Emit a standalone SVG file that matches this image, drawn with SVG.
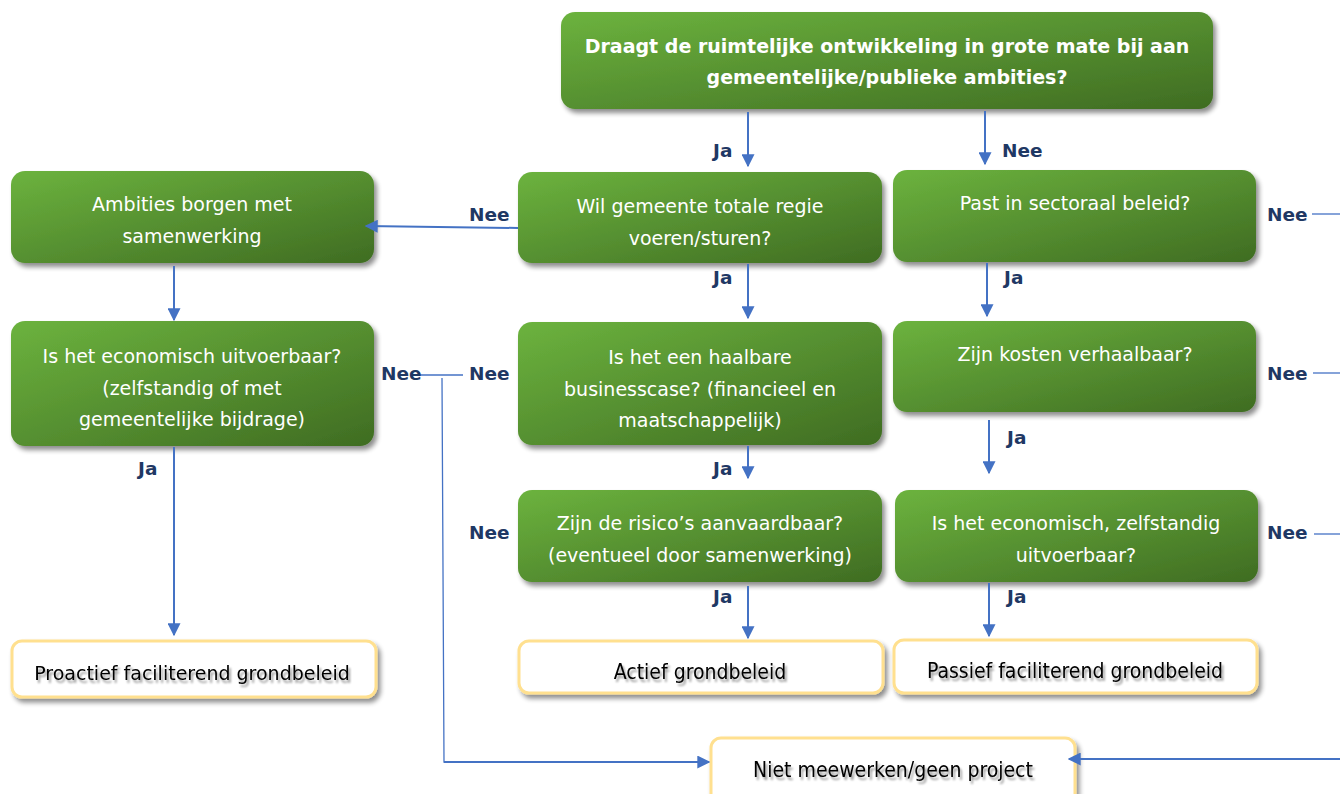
<svg xmlns="http://www.w3.org/2000/svg" width="1340" height="794" viewBox="0 0 1340 794">
<defs>
<linearGradient id="g" x1="0" y1="0" x2="1" y2="1">
<stop offset="0" stop-color="#6cb33e"/>
<stop offset="1" stop-color="#3f6c22"/>
</linearGradient>
<filter id="sh" x="-10%" y="-20%" width="125%" height="150%">
<feGaussianBlur in="SourceAlpha" stdDeviation="2.5"/>
<feOffset dx="3" dy="4" result="b"/>
<feComponentTransfer><feFuncA type="linear" slope="0.45"/></feComponentTransfer>
<feMerge><feMergeNode/><feMergeNode in="SourceGraphic"/></feMerge>
</filter>
<filter id="tsh" x="-5%" y="-30%" width="110%" height="160%">
<feGaussianBlur in="SourceAlpha" stdDeviation="1.2"/>
<feOffset dx="1.5" dy="2.5"/>
<feComponentTransfer><feFuncA type="linear" slope="0.4"/></feComponentTransfer>
<feMerge><feMergeNode/><feMergeNode in="SourceGraphic"/></feMerge>
</filter>
<marker id="ar" viewBox="0 0 10 10" refX="9" refY="5" markerWidth="6.5" markerHeight="6.5" orient="auto" markerUnits="strokeWidth">
<path d="M0,0 L10,5 L0,10 z" fill="#4472c4"/>
</marker>
</defs>
<style>
.gb{fill:url(#g);filter:url(#sh)}
.wb{fill:#fff;stroke:#ffe08f;stroke-width:3;filter:url(#sh)}
.t{font-family:"DejaVu Sans",Verdana,sans-serif;font-size:19px;fill:#fff;text-anchor:middle}
.tb{font-family:"DejaVu Sans",Verdana,sans-serif;font-size:19px;font-weight:bold;fill:#fff;text-anchor:middle}
.k{font-family:"DejaVu Sans",Verdana,sans-serif;font-size:19px;fill:#000;text-anchor:middle;filter:url(#tsh)}
.kc{font-family:"DejaVu Sans Condensed","DejaVu Sans",sans-serif;font-stretch:condensed;font-size:21px;fill:#000;text-anchor:middle;filter:url(#tsh)}
.l{font-family:"DejaVu Sans",Verdana,sans-serif;font-size:18.5px;font-weight:bold;fill:#1f3864}
.c{fill:none;stroke:#4472c4;stroke-width:2}
.a{marker-end:url(#ar)}
.th{fill:none;stroke:#4472c4;stroke-width:1.3}
</style>
<g id="n-top">
<rect class="gb" x="561" y="12" width="652" height="97" rx="14"/>
<text class="tb" x="887" y="53">Draagt de ruimtelijke ontwikkeling in grote mate bij aan</text>
<text class="tb" x="887" y="84">gemeentelijke/publieke ambities?</text>
</g>
<g id="n-ambities">
<rect class="gb" x="11" y="171" width="363" height="92" rx="14"/>
<text class="t" x="192" y="211">Ambities borgen met</text>
<text class="t" x="192" y="243">samenwerking</text>
</g>
<g id="n-regie">
<rect class="gb" x="518" y="172" width="364" height="91" rx="14"/>
<text class="t" x="700" y="213">Wil gemeente totale regie</text>
<text class="t" x="700" y="245">voeren/sturen?</text>
</g>
<g id="n-sectoraal">
<rect class="gb" x="893" y="170" width="363" height="92" rx="14"/>
<text class="t" x="1075" y="210">Past in sectoraal beleid?</text>
</g>
<g id="n-econ">
<rect class="gb" x="11" y="321" width="363" height="125" rx="14"/>
<text class="t" x="192" y="363">Is het economisch uitvoerbaar?</text>
<text class="t" x="192" y="395">(zelfstandig of met</text>
<text class="t" x="192" y="426">gemeentelijke bijdrage)</text>
</g>
<g id="n-business">
<rect class="gb" x="518" y="322" width="364" height="123" rx="14"/>
<text class="t" x="700" y="364">Is het een haalbare</text>
<text class="t" x="700" y="396">businesscase? (financieel en</text>
<text class="t" x="700" y="427">maatschappelijk)</text>
</g>
<g id="n-kosten">
<rect class="gb" x="893" y="321" width="363" height="91" rx="14"/>
<text class="t" x="1075" y="361">Zijn kosten verhaalbaar?</text>
</g>
<g id="n-risico">
<rect class="gb" x="518" y="490" width="364" height="92" rx="14"/>
<text class="t" x="700" y="530">Zijn de risico’s aanvaardbaar?</text>
<text class="t" x="700" y="562">(eventueel door samenwerking)</text>
</g>
<g id="n-zelfstandig">
<rect class="gb" x="895" y="490" width="363" height="92" rx="14"/>
<text class="t" x="1076" y="530">Is het economisch, zelfstandig</text>
<text class="t" x="1076" y="562">uitvoerbaar?</text>
</g>
<g id="n-proactief">
<rect class="wb" x="12" y="641" width="364" height="56" rx="10"/>
<text class="k" x="192" y="680">Proactief faciliterend grondbeleid</text>
</g>
<g id="n-actief">
<rect class="wb" x="519" y="641" width="364" height="52" rx="10"/>
<text class="kc" x="700" y="679">Actief grondbeleid</text>
</g>
<g id="n-passief">
<rect class="wb" x="894" y="640" width="363" height="53" rx="10"/>
<text class="kc" x="1075" y="678">Passief faciliterend grondbeleid</text>
</g>
<g id="n-niet">
<rect class="wb" x="711" y="738" width="364" height="70" rx="10"/>
<text class="kc" x="893" y="777">Niet meewerken/geen project</text>
</g>
<g id="connectors">
<line class="c a" x1="748" y1="112" x2="748" y2="166"/>
<line class="c a" x1="985" y1="111" x2="985" y2="164"/>
<line class="c a" x1="518" y1="228" x2="366" y2="226"/>
<line class="c a" x1="174" y1="266" x2="174" y2="320"/>
<line class="c a" x1="748" y1="264" x2="748" y2="318"/>
<line class="c a" x1="987" y1="263" x2="987" y2="316"/>
<line class="c a" x1="748" y1="446" x2="748" y2="478"/>
<line class="c a" x1="989" y1="420" x2="989" y2="473"/>
<line class="c a" x1="748" y1="586" x2="748" y2="638"/>
<line class="c a" x1="989" y1="583" x2="989" y2="636"/>
<line class="c a" x1="174" y1="447" x2="174" y2="635"/>
<line class="th" x1="420" y1="375" x2="463" y2="375"/>
<polyline class="th" points="442,378 444,762 700,762"/>
<line class="c a" x1="444" y1="762" x2="709" y2="762"/>
<line class="th" x1="1312" y1="214" x2="1340" y2="214"/>
<line class="th" x1="1313" y1="373" x2="1340" y2="373"/>
<line class="th" x1="1314" y1="534" x2="1340" y2="534"/>
<line class="c a" x1="1340" y1="759" x2="1069" y2="759"/>
<text class="l" x="713" y="157">Ja</text>
<text class="l" x="1002" y="157">Nee</text>
<text class="l" x="469" y="221">Nee</text>
<text class="l" x="713" y="284">Ja</text>
<text class="l" x="1004" y="284">Ja</text>
<text class="l" x="1267" y="221">Nee</text>
<text class="l" x="381" y="380">Nee</text>
<text class="l" x="469" y="380">Nee</text>
<text class="l" x="1267" y="380">Nee</text>
<text class="l" x="1007" y="444">Ja</text>
<text class="l" x="713" y="475">Ja</text>
<text class="l" x="138" y="475">Ja</text>
<text class="l" x="469" y="539">Nee</text>
<text class="l" x="1267" y="539">Nee</text>
<text class="l" x="713" y="603">Ja</text>
<text class="l" x="1007" y="603">Ja</text>
</g>
</svg>
